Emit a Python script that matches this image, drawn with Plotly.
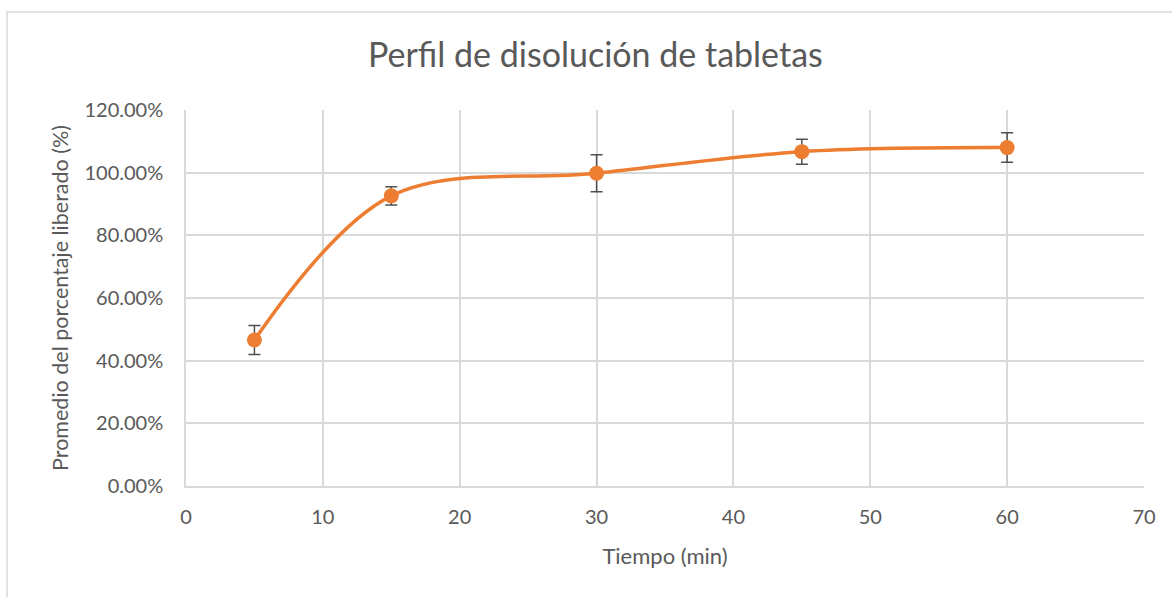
import plotly.graph_objects as go

tiempo = [5, 15, 30, 45, 60]
liberado = [0.466, 0.926, 0.998, 1.067, 1.080]
error = [0.046, 0.029, 0.059, 0.040, 0.047]

title_text = "Perfil de disolución de tabletas"
x_title = "Tiempo (min)"
y_title = "Promedio del porcentaje liberado (%)"

orange = "#ED7D31"
grey_text = "#595959"
grid = "#d9d9d9"
font_family = "Lato, Open Sans, sans-serif"

fig = go.Figure()
fig.add_trace(go.Scatter(
    x=tiempo, y=liberado,
    mode="lines+markers",
    line=dict(color=orange, width=3.5, shape="spline", smoothing=1.0),
    marker=dict(color=orange, size=15),
    error_y=dict(type="data", array=error, visible=True,
                 color="#505050", thickness=1.5, width=6),
    showlegend=False,
))

fig.update_layout(
    width=1172, height=597,
    margin=dict(l=186, r=28, t=110, b=111),
    paper_bgcolor="white", plot_bgcolor="white",
    font=dict(family=font_family, color=grey_text),
    title=dict(text=title_text, x=0.508, xanchor="center", y=0.908, yanchor="middle",
               xref="container",
               font=dict(size=34, color=grey_text, family=font_family)),
    xaxis=dict(range=[0, 70], dtick=10, tick0=0,
               showgrid=True, gridcolor=grid, gridwidth=1.5,
               showline=True, linecolor=grid, linewidth=1.5, mirror=False,
               zeroline=False, ticks="", ticklabelstandoff=12,
               tickfont=dict(size=20, color=grey_text),
               title=dict(text=x_title, font=dict(size=22, color=grey_text), standoff=22)),
    yaxis=dict(range=[0, 1.2], dtick=0.2, tick0=0, tickformat=".2%",
               showgrid=True, gridcolor=grid, gridwidth=1.5,
               showline=True, linecolor=grid, linewidth=1.5,
               zeroline=False, ticks="", ticklabelstandoff=17,
               tickfont=dict(size=20, color=grey_text),
               title=dict(text=y_title, font=dict(size=21.5, color=grey_text), standoff=10)),
    shapes=[dict(type="rect", xref="paper", yref="paper",
                 x0=(7 - 186) / 958, x1=(1200 - 186) / 958,
                 y0=(486 - 620) / 376, y1=(486 - 12) / 376,
                 line=dict(color=grid, width=1.5), fillcolor="rgba(0,0,0,0)",
                 layer="below")],
)

fig.write_html("out.html", config={"displayModeBar": False},
               post_script="document.body.style.margin='0';")
